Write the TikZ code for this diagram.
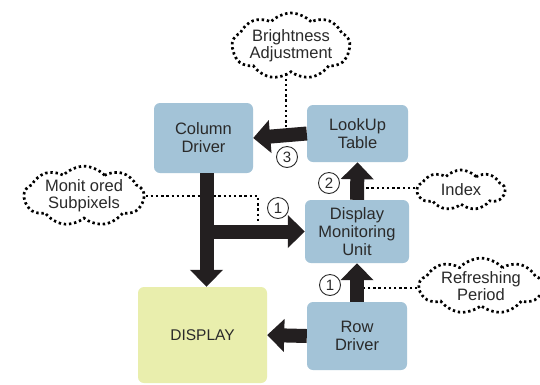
\documentclass[tikz,border=0pt]{standalone}
\usepackage{fontspec}
\setmainfont{Liberation Sans}
\usetikzlibrary{arrows.meta,shapes.symbols}
\definecolor{boxblue}{HTML}{A3C3D7}
\definecolor{dispyellow}{HTML}{E9EEAD}
\definecolor{arrowblack}{HTML}{231F20}
\definecolor{txt}{HTML}{2A2A2A}
\tikzset{
  box/.style={rectangle, rounded corners=6pt, fill=boxblue, draw=none, align=center,
    text=txt, font=\fontsize{16.5}{18}\selectfont, inner sep=0pt},
  dispbox/.style={box, fill=dispyellow, font=\fontsize{15.5}{18}\selectfont},
  bigarrow/.style={draw=arrowblack, line width=14pt,
    -{Triangle[width=32pt,length=17pt]}},
  dotline/.style={draw=black, line width=2.7pt, dash pattern=on 2.4pt off 2.8pt},
  cloudnote/.style={cloud, cloud puffs=9, cloud puff arc=95, cloud ignores aspect,
    draw=black, line width=2.7pt, dash pattern=on 2.4pt off 2.8pt, align=center,
    text=txt, font=\fontsize{16.5}{17}\selectfont, inner sep=0pt},
  num/.style={circle, draw=txt, line width=0.9pt, minimum size=21pt, inner sep=0pt,
    text=txt, font=\fontsize{15}{15}\selectfont}
}
\begin{document}
\begin{tikzpicture}[x=1pt,y=-1pt]
\path[use as bounding box, fill=white] (0,0) rectangle (540,384);

% boxes
\node[box, minimum width=99pt, minimum height=70pt] (col) at (203.5,138) {Column\\Driver};
\node[box, minimum width=101pt, minimum height=57pt] (lut) at (357.5,133.5) {LookUp\\Table};
\node[box, minimum width=104pt, minimum height=63pt] (dmu) at (357,231.5) {Display\\Monitoring\\Unit};
\node[box, minimum width=100pt, minimum height=68pt] (row) at (357,336) {Row\\Driver};
\node[dispbox, minimum width=129pt, minimum height=96pt] (disp) at (202.5,335) {DISPLAY};

% clouds
\node[cloudnote, minimum width=118pt, minimum height=66pt] (bright) at (291,46) {Brightness\\Adjustment};
\node[cloudnote, minimum width=120pt, minimum height=56pt] (mon) at (84,196) {Monit ored\\Subpixels};
\node[cloudnote, minimum width=88pt, minimum height=40pt] (idx) at (461,190) {Index};
\node[cloudnote, minimum width=124pt, minimum height=45pt] (ref) at (481,286) {Refreshing\\Period};

% coordinates for dotted ends
\coordinate (bEnd) at (286,127);
\coordinate (mCorner) at (258,196);
\coordinate (mEnd) at (258,223);
\coordinate (iEnd) at (364,188);
\coordinate (rEnd) at (364,288);

% dotted connectors
\draw[dotline] (bright.south -| bEnd) -- (bEnd);
\draw[dotline] (mon.east |- mCorner) -- (mCorner) -- (mEnd);
\draw[dotline] (idx.west |- iEnd) -- (iEnd);
\draw[dotline] (ref.west |- rEnd) -- (rEnd);

% block arrows
\draw[bigarrow] (lut.west) -- (col.east);
\draw[bigarrow] ([xshift=3pt]col.south) -- ([xshift=4pt]disp.north);
\draw[bigarrow] ([xshift=3pt]col.south |- dmu.west) -- (dmu.west);
\draw[bigarrow] (dmu.north) -- (lut.south);
\draw[bigarrow] (row.north) -- (dmu.south);
\draw[bigarrow] (row.west) -- (disp.east);

% circled numbers
\node[num] (n3) at (287,157) {3};
\node[num] (n2) at (329,183) {2};
\node[num] (n1a) at (278,208) {1};
\node[num] (n1b) at (330,285) {1};
\end{tikzpicture}
\end{document}
